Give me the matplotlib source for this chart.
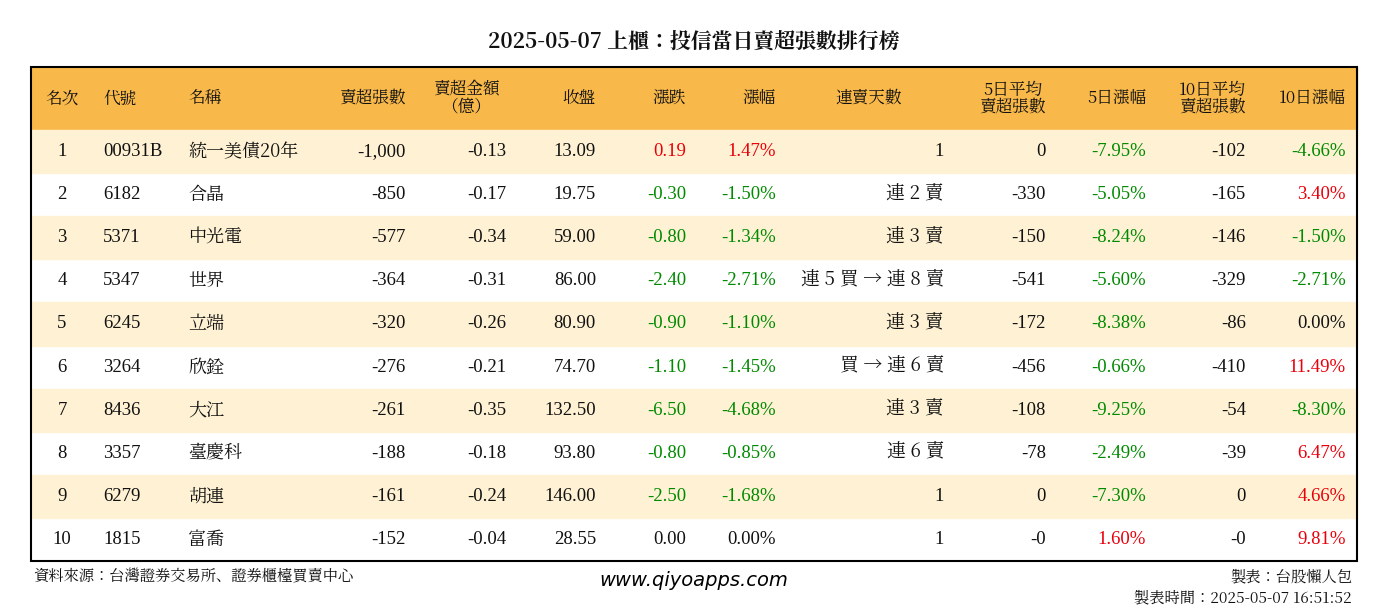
import matplotlib
matplotlib.use("Agg")
import matplotlib.pyplot as plt
from matplotlib import font_manager as fm
from matplotlib.patches import Rectangle

title = "2025-05-07 上櫃：投信當日賣超張數排行榜"
headers = ["名次", "代號", "名稱", "賣超張數", "賣超金額\n（億）", "收盤", "漲跌", "漲幅", "連賣天數",
           "5日平均\n賣超張數", "5日漲幅", "10日平均\n賣超張數", "10日漲幅"]
ranks = [1, 2, 3, 4, 5, 6, 7, 8, 9, 10]
codes = ["00931B", "6182", "5371", "5347", "6245", "3264", "8436", "3357", "6279", "1815"]
names = ["統一美債20年", "合晶", "中光電", "世界", "立端", "欣銓", "大江", "臺慶科", "胡連", "富喬"]
sell_lots = [-1000, -850, -577, -364, -320, -276, -261, -188, -161, -152]
sell_amt = [-0.13, -0.17, -0.34, -0.31, -0.26, -0.21, -0.35, -0.18, -0.24, -0.04]
close = [13.09, 19.75, 59.00, 86.00, 80.90, 74.70, 132.50, 93.80, 146.00, 28.55]
change = [0.19, -0.30, -0.80, -2.40, -0.90, -1.10, -6.50, -0.80, -2.50, 0.00]
pct = [1.47, -1.50, -1.34, -2.71, -1.10, -1.45, -4.68, -0.85, -1.68, 0.00]
streak = ["1", "連 2 賣", "連 3 賣", "連 5 買 → 連 8 賣", "連 3 賣", "買 → 連 6 賣", "連 3 賣", "連 6 賣", "1", "1"]
avg5 = ["0", "-330", "-150", "-541", "-172", "-456", "-108", "-78", "0", "-0"]
pct5 = [-7.95, -5.05, -8.24, -5.60, -8.38, -0.66, -9.25, -2.49, -7.30, 1.60]
avg10 = ["-102", "-165", "-146", "-329", "-86", "-410", "-54", "-39", "0", "-0"]
pct10 = [-4.66, 3.40, -1.50, -2.71, 0.00, 11.49, -8.30, 6.47, 4.66, 9.81]

cjk = None
for f in fm.fontManager.ttflist:
    if "CJK" in f.name and ("TC" in f.name or cjk is None):
        cjk = f.name
        if "TC" in f.name:
            break
if cjk is None:
    cjk = "Noto Sans CJK TC"

W, H = 1388, 612
plt.rcParams["font.family"] = ["Liberation Serif", cjk]
fig = plt.figure(figsize=(W / 100, H / 100), dpi=100)
ax = fig.add_axes([0, 0, 1, 1])
ax.set_xlim(0, W)
ax.set_ylim(H, 0)
ax.axis("off")

RED, GREEN, BLACK = "#E8000B", "#008A00", "#111111"
def col(v):
    return RED if v > 0 else (GREEN if v < 0 else BLACK)

def t(x, y, s, ha="right", c=BLACK, size=13.5, **kw):
    fam = cjk if any(ord(ch) > 0x2000 for ch in s) else "Liberation Serif"
    ax.text(x, y, s, ha=ha, va="center", color=c, fontsize=size, family=[fam, cjk], **kw)

t(W / 2, 42, title, ha="center", size=15, fontweight="bold")

L, R, top, hh, rh = 31, 1357, 67, 63, 43.1
ax.add_patch(Rectangle((L, top), R - L, hh, color="#F9B94A", zorder=0))
for i in range(10):
    y0 = top + hh + i * rh
    if i % 2 == 0:
        ax.add_patch(Rectangle((L, y0), R - L, rh, color="#FFF2D4", zorder=0))
ax.add_patch(Rectangle((L, top), R - L, hh + 10 * rh, fill=False, ec="black", lw=1.5, zorder=3))

xs = [62, 103, 188, 406, 506, 596, 686, 776, 944, 1046, 1146, 1246, 1346]
has = ["center", "left", "left"] + ["right"] * 10
hx = list(xs)
hx[4] = 466; has_h = list(has); has_h[4] = "center"
hx[8] = 869; has_h[8] = "center"
hy = top + hh / 2
for x, h, a in zip(hx, headers, has_h):
    t(x, hy, h, ha=a, size=12, linespacing=1.0, multialignment="center")

for i in range(10):
    y = top + hh + i * rh + rh / 2
    vals = [(str(ranks[i]), BLACK), (codes[i], BLACK), (names[i], BLACK),
            (f"{sell_lots[i]:,}", BLACK), (f"{sell_amt[i]:.2f}", BLACK), (f"{close[i]:.2f}", BLACK),
            (f"{change[i]:.2f}", col(change[i])), (f"{pct[i]:.2f}%", col(pct[i])),
            (streak[i], BLACK), (avg5[i], BLACK), (f"{pct5[i]:.2f}%", col(pct5[i])),
            (avg10[i], BLACK), (f"{pct10[i]:.2f}%", col(pct10[i]))]
    for x, a, (s, c) in zip(xs, has, vals):
        t(x, y, s, ha=a, c=c, size=13 if a == "left" and i >= 0 and s == names[i] else 13.5)

t(33, 577, "資料來源：台灣證券交易所、證券櫃檯買賣中心", ha="left", size=11)
ax.text(694, 580, "www.qiyoapps.com", ha="center", va="center", fontsize=14, style="italic", family="DejaVu Sans")
t(1352, 577, "製表：台股懶人包", size=11)
t(1352, 598, "製表時間：2025-05-07 16:51:52", size=11)

fig.savefig("out.png", dpi=100)
